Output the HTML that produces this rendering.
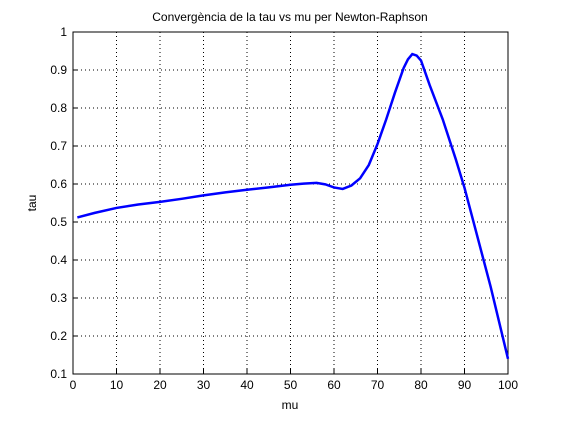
<!DOCTYPE html>
<html><head><meta charset="utf-8"><style>
body{margin:0;background:#fff}
svg text{font-family:"Liberation Sans",Arial,sans-serif;font-size:12px;fill:#000}
</style></head><body>
<svg width="561" height="420">
<rect width="561" height="420" fill="#fff"/>
<g id="grid"></g>
<g id="ticks"></g>
<rect x="73" y="32" width="435" height="342" fill="none" stroke="#000"/>
<polyline id="line" fill="none" stroke="#0000ff" stroke-width="2.5"/>
<text x="290" y="21" text-anchor="middle">Convergència de la tau vs mu per Newton-Raphson</text>
<text x="290" y="409" text-anchor="middle">mu</text>
<text x="36" y="203" text-anchor="middle" transform="rotate(-90 36 203)">tau</text>
</svg>
<script>
const mu=[1,5,10,15,20,25,30,35,40,45,50,53,56,58,60,62,64,66,68,70,72,74,76,77,78,79,80,82,85,88,90,93,96,100];
const tau=[0.512,0.524,0.537,0.546,0.553,0.561,0.570,0.578,0.585,0.591,0.598,0.601,0.603,0.599,0.591,0.587,0.596,0.615,0.650,0.705,0.770,0.840,0.905,0.928,0.942,0.938,0.925,0.860,0.770,0.665,0.590,0.460,0.330,0.140];
const xTicks=[0,10,20,30,40,50,60,70,80,90,100];
const yTicks=[0.1,0.2,0.3,0.4,0.5,0.6,0.7,0.8,0.9,1];
const X=v=>73+v/100*435, Y=v=>374-(v-0.1)/0.9*342;
const ns="http://www.w3.org/2000/svg";
const grid=document.getElementById('grid'), tk=document.getElementById('ticks');
function mk(p,tag,a){const e=document.createElementNS(ns,tag);for(const k in a)e.setAttribute(k,a[k]);p.appendChild(e);return e;}
xTicks.forEach(t=>{const x=X(t);
 if(t>0&&t<100){const g=mk(grid,'line',{x1:x,x2:x,y1:32,y2:374,stroke:'#000','stroke-dasharray':'1,3'});
 
 }
 mk(tk,'line',{x1:x,x2:x,y1:374,y2:369,stroke:'#000'});
 const l=mk(tk,'text',{x:x,y:389,'text-anchor':'middle'});l.textContent=t;
 
 });
yTicks.forEach(t=>{const y=Y(t);
 if(t>0.1&&t<1){const g=mk(grid,'line',{x1:73,x2:508,y1:y,y2:y,stroke:'#000','stroke-dasharray':'1,3'});
 
 }
 mk(tk,'line',{x1:73,x2:78,y1:y,y2:y,stroke:'#000'});
 const l=mk(tk,'text',{x:67,y:y+4,'text-anchor':'end'});l.textContent=(t===1?'1':t.toFixed(1));
 
 });
document.getElementById('line').setAttribute('points',mu.map((m,i)=>X(m)+','+Y(tau[i])).join(' '));
</script>
</body></html>
